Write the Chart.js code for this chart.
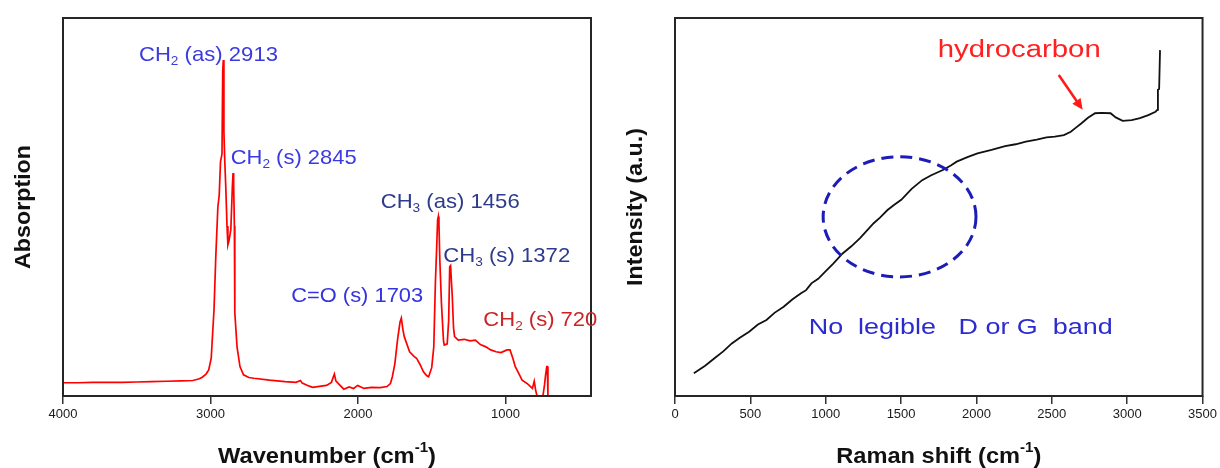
<!DOCTYPE html>
<html>
<head>
<meta charset="utf-8">
<script src="https://cdn.jsdelivr.net/npm/chart.js@4.4.1/dist/chart.umd.min.js"></script>
<style>
  body { margin: 0; background: #fff; }
  #wrap { display: flex; width: 1220px; height: 468px; }
  canvas { display: block; }
</style>
</head>
<body>
<div id="wrap">
  <canvas id="ir" width="610" height="468"></canvas>
  <canvas id="raman" width="610" height="468"></canvas>
</div>
<script>
// FTIR spectrum (left panel), absorption in arbitrary units
var irWavenumber = [4000, 3900, 3800, 3700, 3600, 3500, 3400, 3300, 3200, 3120, 3080, 3058, 3030, 3012, 2995, 2988, 2976, 2964, 2950, 2941, 2932, 2922, 2917, 2913, 2909, 2903, 2896, 2888, 2882, 2875, 2862, 2852, 2847, 2843, 2838, 2835, 2820, 2800, 2776, 2740, 2706, 2600, 2495, 2420, 2390, 2378, 2330, 2307, 2250, 2213, 2180, 2160, 2150, 2131, 2096, 2060, 2030, 2002, 1960, 1908, 1850, 1803, 1780, 1767, 1750, 1732, 1715, 1706, 1695, 1686, 1650, 1620, 1603, 1580, 1556, 1535, 1521, 1500, 1486, 1475, 1467, 1460, 1455, 1451, 1445, 1434, 1420, 1415, 1395, 1385, 1378, 1372, 1366, 1361, 1352, 1345, 1320, 1280, 1240, 1204, 1170, 1133, 1100, 1064, 1030, 990, 969, 950, 934, 910, 887, 850, 817, 805, 795, 786, 760, 746, 735, 728, 720, 716, 712];
var irAbsorption = [3.5, 3.5, 3.6, 3.6, 3.6, 3.7, 3.8, 3.9, 4.0, 4.1, 4.5, 4.9, 5.8, 6.9, 10, 14.8, 22.8, 36.9, 50, 53, 62, 64, 86, 88.9, 70, 62, 55, 45, 40, 41, 44, 55, 59, 56, 45, 22, 13, 7.8, 5.6, 4.9, 4.7, 4.2, 3.8, 3.6, 4.1, 3.4, 2.6, 2.3, 2.6, 2.8, 3.6, 5.8, 4.0, 3.2, 1.8, 2.4, 2.0, 2.8, 2.0, 2.3, 2.2, 2.5, 3.3, 5.1, 8.5, 14.8, 19.5, 20.6, 17.5, 15.7, 11.7, 10.5, 10.0, 8.4, 6.4, 5.4, 5.1, 7.5, 13, 30, 38.6, 46.6, 47.5, 45.5, 36, 24.5, 14.5, 13.5, 13.8, 20, 34.2, 34.5, 30, 26.7, 18, 15.7, 14.8, 15, 14.6, 14.8, 13.6, 13, 12.2, 11.7, 11.5, 12.2, 12.2, 10, 7.8, 6.0, 4.2, 3.2, 2.0, 3.9, 1.5, 0, 0, 0, 3, 5.5, 7.8, 7.8, 0];
var irTicks = [4000, 3000, 2000, 1000];

// Raman spectrum (right panel)
var ramanShift = [125, 200, 262, 320, 377, 430, 492, 550, 607, 660, 721, 780, 836, 870, 905, 950, 997, 1050, 1112, 1170, 1226, 1270, 1318, 1360, 1410, 1455, 1501, 1570, 1640, 1700, 1777, 1830, 1869, 1940, 2007, 2100, 2190, 2260, 2328, 2400, 2465, 2520, 2580, 2626, 2660, 2695, 2740, 2787, 2830, 2890, 2924, 2970, 3030, 3085, 3140, 3188, 3200, 3204, 3212, 3218];
var ramanIntensity = [6.0, 8.0, 10.0, 11.8, 13.9, 15.4, 17.0, 18.9, 20.1, 22.0, 23.6, 25.6, 27.2, 28.0, 29.8, 31.0, 32.9, 35.0, 37.7, 39.6, 41.7, 43.6, 45.7, 47.2, 49.2, 50.6, 51.9, 54.8, 57.1, 58.4, 59.8, 61.0, 62.0, 63.2, 64.2, 65.1, 66.1, 66.6, 67.3, 67.8, 68.4, 68.6, 69.0, 69.9, 71.0, 72.1, 73.6, 74.8, 74.9, 74.8, 73.7, 72.8, 73.0, 73.5, 74.3, 75.2, 75.7, 81.0, 81.2, 91.5];
var ramanTicks = [0, 500, 1000, 1500, 2000, 2500, 3000, 3500];

var FAMILY = '"Liberation Sans", Arial, Helvetica, sans-serif';

// draws text made of parts ([text, ''|'sub'|'sup']) squeezed/stretched to a width
function drawRich(ctx, parts, o) {
  var fontOf = function (p) {
    var s = p[1] ? Math.round(o.size * 0.62) : o.size;
    return (o.bold ? 'bold ' : '') + s + 'px ' + FAMILY;
  };
  var total = 0;
  parts.forEach(function (p) { ctx.font = fontOf(p); total += ctx.measureText(p[0]).width; });
  var sx = o.width ? o.width / total : 1;
  ctx.save();
  ctx.translate(o.x, o.y);
  if (o.rotate) ctx.rotate(o.rotate);
  ctx.scale(sx, 1);
  ctx.fillStyle = o.color;
  ctx.textAlign = 'left';
  ctx.textBaseline = o.baseline || 'alphabetic';
  var cx = o.align === 'center' ? -total / 2 : 0;
  parts.forEach(function (p) {
    ctx.font = fontOf(p);
    var dy = p[1] === 'sub' ? o.size * 0.2 : (p[1] === 'sup' ? -o.size * 0.4 : 0);
    ctx.fillText(p[0], cx, dy);
    cx += ctx.measureText(p[0]).width;
  });
  ctx.restore();
}

function deco(cfg) {
  return {
    id: 'deco',
    afterDraw: function (chart) {
      var ctx = chart.ctx, a = chart.chartArea;
      var xs = chart.scales.x, ys = chart.scales.y;
      ctx.save();
      ctx.strokeStyle = '#262626';
      ctx.lineWidth = 2;
      ctx.strokeRect(a.left, a.top, a.right - a.left, a.bottom - a.top);

      drawRich(ctx, cfg.xTitle.parts, {x: (a.left + a.right) / 2, y: a.bottom + 61, size: 22, bold: true,
        color: '#111', width: cfg.xTitle.width, align: 'center', baseline: 'middle'});
      drawRich(ctx, cfg.yTitle.parts, {x: a.left - 39, y: (a.top + a.bottom) / 2, size: 22, bold: true,
        color: '#111', width: cfg.yTitle.width, align: 'center', baseline: 'middle', rotate: -Math.PI / 2});

      cfg.labels.forEach(function (l) {
        drawRich(ctx, l.parts, {x: xs.getPixelForValue(l.x), y: ys.getPixelForValue(l.y),
          size: l.size || 21, color: l.color, width: l.width});
      });
      if (cfg.extra) cfg.extra(ctx, xs, ys);
      ctx.restore();
    }
  };
}

function baseOptions(xMin, xMax, reverse, ticks, yWidth, rightPad) {
  return {
    responsive: false,
    animation: false,
    layout: {padding: {top: 18, right: rightPad, left: 0, bottom: 0}},
    plugins: {legend: {display: false}, tooltip: {enabled: false}},
    elements: {point: {radius: 0}, line: {tension: 0}},
    scales: {
      x: {
        type: 'linear', min: xMin, max: xMax, reverse: reverse,
        afterBuildTicks: function (s) { s.ticks = ticks.map(function (v) { return {value: v}; }); },
        afterFit: function (s) { s.height = 72; },
        ticks: {callback: function (v) { return String(v); }, font: {size: 13, family: FAMILY},
          color: '#1a1a1a', padding: 3, maxRotation: 0, autoSkip: false},
        grid: {drawOnChartArea: false, drawTicks: true, tickLength: 8, color: '#333', lineWidth: 1.5},
        border: {display: false}
      },
      y: {
        min: 0, max: 100,
        ticks: {display: false},
        grid: {display: false},
        border: {display: false},
        afterFit: function (s) { s.width = yWidth; }
      }
    }
  };
}

new Chart(document.getElementById('ir'), {
  type: 'line',
  data: {
    datasets: [{
      data: irWavenumber.map(function (w, i) { return {x: w, y: irAbsorption[i]}; }),
      borderColor: '#ff0000', borderWidth: 1.7, fill: false
    }]
  },
  options: baseOptions(420, 4000, true, irTicks, 63, 19),
  plugins: [deco({
    xTitle: {parts: [['Wavenumber (cm', ''], ['-1', 'sup'], [')', '']], width: 218},
    yTitle: {parts: [['Absorption', '']], width: 124},
    labels: [
      {parts: [['CH', ''], ['2', 'sub'], [' (as) 2913', '']], x: 3485, y: 88.7, color: '#3a3ae0', width: 139},
      {parts: [['CH', ''], ['2', 'sub'], [' (s) 2845', '']], x: 2863, y: 61.4, color: '#3a3ae0', width: 126},
      {parts: [['CH', ''], ['3', 'sub'], [' (as) 1456', '']], x: 1846, y: 49.7, color: '#2d3b8e', width: 139},
      {parts: [['CH', ''], ['3', 'sub'], [' (s) 1372', '']], x: 1422, y: 35.4, color: '#2d3b8e', width: 127},
      {parts: [['C=O (s) 1703', '']], x: 2453, y: 24.9, color: '#3434e0', width: 132},
      {parts: [['CH', ''], ['2', 'sub'], [' (s) 720', '']], x: 1150, y: 18.5, color: '#cc2424', width: 114}
    ]
  })]
});

new Chart(document.getElementById('raman'), {
  type: 'line',
  data: {
    datasets: [{
      data: ramanShift.map(function (r, i) { return {x: r, y: ramanIntensity[i]}; }),
      borderColor: '#111', borderWidth: 1.8, fill: false
    }]
  },
  options: baseOptions(0, 3500, false, ramanTicks, 65, 17),
  plugins: [deco({
    xTitle: {parts: [['Raman shift (cm', ''], ['-1', 'sup'], [')', '']], width: 205},
    yTitle: {parts: [['Intensity (a.u.)', '']], width: 158},
    labels: [
      {parts: [['hydrocarbon', '']], x: 1743, y: 89.7, color: '#ff2020', size: 23, width: 163},
      {parts: [['No  legible   D or G  band', '']], x: 887, y: 16.4, color: '#2b2bd0', size: 22, width: 304}
    ],
    extra: function (ctx, xs, ys) {
      // dashed ellipse around the D/G band region
      var cx = xs.getPixelForValue(1490), cy = ys.getPixelForValue(47.4);
      var rx = Math.abs(xs.getPixelForValue(1997) - cx), ry = Math.abs(ys.getPixelForValue(63.3) - cy);
      ctx.save();
      ctx.strokeStyle = '#1c1cb8';
      ctx.lineWidth = 3;
      ctx.setLineDash([12, 7]);
      ctx.beginPath();
      ctx.ellipse(cx, cy, rx, ry, 0, 0, Math.PI * 2);
      ctx.stroke();
      ctx.restore();

      // arrow pointing at the hydrocarbon hump
      var x0 = xs.getPixelForValue(2546), y0 = ys.getPixelForValue(84.9);
      var x1 = xs.getPixelForValue(2705), y1 = ys.getPixelForValue(75.7);
      var ang = Math.atan2(y1 - y0, x1 - x0);
      ctx.save();
      ctx.strokeStyle = '#ff1a1a';
      ctx.fillStyle = '#ff1a1a';
      ctx.lineWidth = 2.5;
      ctx.beginPath();
      ctx.moveTo(x0, y0);
      ctx.lineTo(x1 - 8 * Math.cos(ang), y1 - 8 * Math.sin(ang));
      ctx.stroke();
      ctx.beginPath();
      ctx.moveTo(x1, y1);
      ctx.lineTo(x1 - 11 * Math.cos(ang) + 5 * Math.sin(ang), y1 - 11 * Math.sin(ang) - 5 * Math.cos(ang));
      ctx.lineTo(x1 - 11 * Math.cos(ang) - 5 * Math.sin(ang), y1 - 11 * Math.sin(ang) + 5 * Math.cos(ang));
      ctx.closePath();
      ctx.fill();
      ctx.restore();
    }
  })]
});
</script>
</body>
</html>
